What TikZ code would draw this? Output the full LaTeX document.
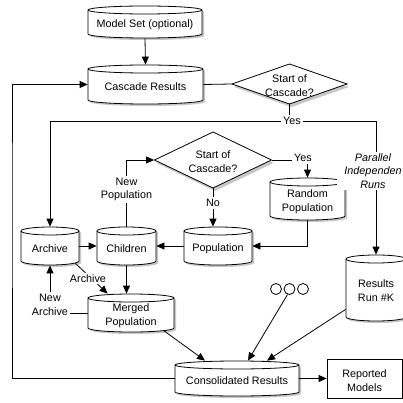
\documentclass[tikz,border=0pt]{standalone}
\usepackage{fontspec}
\setmainfont{Liberation Sans}
\usetikzlibrary{arrows.meta,calc}
\newcommand{\cyl}[6]{%
 \pgfmathsetmacro{\cyXa}{#2-#4/2}%
 \pgfmathsetmacro{\cyXb}{#2+#4/2}%
 \pgfmathsetmacro{\cyYa}{#3-#5/2+4}%
 \pgfmathsetmacro{\cyYb}{#3+#5/2-4}%
 \pgfmathsetmacro{\cyR}{#4/2}%
 \fill[shadowc,shift={(2,2)}] (\cyXa,\cyYa) -- (\cyXa,\cyYb) arc[start angle=180,end angle=0,x radius=\cyR,y radius=4] -- (\cyXb,\cyYa) arc[start angle=0,end angle=-180,x radius=\cyR,y radius=4] -- cycle;
 \draw[fill=white] (\cyXa,\cyYa) -- (\cyXa,\cyYb) arc[start angle=180,end angle=0,x radius=\cyR,y radius=4] -- (\cyXb,\cyYa) arc[start angle=0,end angle=-180,x radius=\cyR,y radius=4] -- cycle;
 \draw (\cyXa,\cyYa) arc[start angle=180,end angle=0,x radius=\cyR,y radius=4];
 \node[minimum width=#4pt,minimum height=#5pt] (#1) at (#2,#3) {};
 \node (#1t) at (#2,#3+2.5) {#6};
}
\newcommand{\dia}[6]{%
 \fill[shadowc] (#2-#4/2+2,#3+3) -- (#2+2,#3-#5/2+3) -- (#2+#4/2+2,#3+3) -- (#2+2,#3+#5/2+3) -- cycle;
 \draw[fill=white] (#2-#4/2,#3) -- (#2,#3-#5/2) -- (#2+#4/2,#3) -- (#2,#3+#5/2) -- cycle;
 \node[minimum width=#4pt,minimum height=#5pt] (#1) at (#2,#3) {};
 \node (#1t) at (#2,#3+1.5) {#6};
}
\begin{document}
\begin{tikzpicture}[x=1pt,y=-1pt,line width=0.8pt,
 every node/.style={font=\fontsize{10.8}{13.8}\selectfont, align=center, inner sep=0pt},
 arr/.style={-{Triangle[length=8pt,width=7pt]}},
 lbl/.style={fill=white, inner sep=2pt},
 shadowc/.style={fill=black!22}]
\fill[white] (0,0) rectangle (403,403);
\useasboundingbox (0,0) rectangle (403,403);

\cyl{ms}{145}{22}{114}{32}{Model Set (optional)}
\cyl{cr}{145.5}{84.5}{115}{39}{Cascade Results}
\dia{d1}{289.5}{84}{115}{40}{Start of\\Cascade?}
\dia{d2}{213}{160}{117}{56}{Start of\\Cascade?}
\cyl{rp}{307.5}{199}{75}{42}{Random\\Population}
\cyl{archv}{50}{246}{58}{38}{Archive}
\cyl{ch}{126.5}{246}{59}{38}{Children}
\cyl{pop}{218}{246}{68}{38}{Population}
\cyl{mp}{131}{313}{86}{38}{Merged\\Population}
\cyl{rk}{376}{288}{60}{66}{Results\\Run \#K}
\cyl{cons}{237}{378.5}{124}{35}{Consolidated Results}
\node[draw, fill=white, minimum width=75pt, minimum height=39pt] (rm) at (364.5,378.5) {};
\node (rmt) at (364.5,381) {Reported\\Models};
\node[draw, fill=white, circle, minimum size=11pt] (c1) at (276,289) {};
\node[draw, fill=white, circle, minimum size=11pt] (c2) at (289.5,289) {};
\node[draw, fill=white, circle, minimum size=11pt] (c3) at (303,289) {};
\node[lbl] (na) at (50,305) {New\\Archive};

\coordinate (Y) at (0,121);
\coordinate (L) at (12,200);

\draw[arr] (ms.south) -- (cr.north);
\draw (cr.east) -- (d1.west);
\draw (d1.south) -- (d1.south |- Y);
\draw[arr] (d1.south |- Y) -- (archv.north |- Y) -- (archv.north);
\draw[arr] (d1.south |- Y) -- (rk.north |- Y) -- (rk.north);
\draw[arr] (ch.north) |- (d2.west);
\draw[arr] (d2.east) -| (rp.north);
\draw[arr] (d2.south) -- (d2.south |- pop.north);
\draw[arr] (rp.south) |- (pop.east);
\draw[arr] (pop.west) -- (ch.east);
\draw[arr] (archv.east) -- (ch.west);
\draw[arr] (ch.south) -- (ch.south |- mp.north);
\draw[arr] ($(archv.south east)+(-4,-2)$) -- ($(mp.north west)+(20,0)$);
\draw (mp.west) -- (mp.west -| na.east);
\draw[arr] (na.north) -- (archv.south);
\draw[arr] ($(mp.south east)+(-11,-2)$) -- ($(cons.north)+(-32,0)$);
\draw[arr] (c2.250) -- ($(cons.north)+(11,0)$);
\draw[arr] ($(rk.south west)+(0,-12)$) -- ($(cons.north)+(30,0)$);
\draw[arr] (cons.east) -- (rm.west);
\draw[arr] (cons.west) -| (L) |- (cr.west);

\node[lbl] (yes1) at (292,121) {Yes};
\node[lbl] (yes2) at (303,158) {Yes};
\node[lbl] (no) at (213,203) {No};
\node[lbl, inner xsep=3pt] (newpop) at (126.5,189.5) {New\\Population};
\node[lbl, inner xsep=6pt] (archlbl) at (88,278.5) {Archive};
\node[fill=white, font=\fontsize{10.8}{13.5}\selectfont\itshape, minimum width=72pt, minimum height=38pt] (par) at (373,171) {Parallel\\Independen\\Runs};
\end{tikzpicture}
\end{document}
